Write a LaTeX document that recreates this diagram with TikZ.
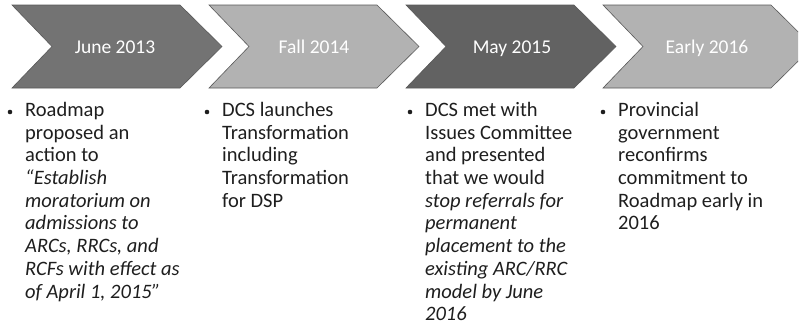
\documentclass[tikz,border=0pt]{standalone}
\usepackage{fontspec}
\setmainfont{Carlito}
\usepackage{tikz}
\usetikzlibrary{
    positioning,
    calc
}
\definecolor{chevDark}{RGB}{115, 115, 115}
\definecolor{chevLight}{RGB}{178, 178, 178}
\definecolor{bodyText}{RGB}{30, 30, 30}

\tikzset{
    chevron/.style={draw=black!65, line width=0.6pt},
    datelabel/.style={anchor=base, text=white, font=\fontsize{19.5}{22}\selectfont, inner sep=0pt},
    itemtext/.style={anchor=north west, align=left, inner sep=0pt, text=bodyText,
        font=\fontsize{20.5}{22.7}\selectfont},
    dot/.style={circle, fill=bodyText, inner sep=0pt, minimum size=4.6pt}
}

\begin{document}
\begin{tikzpicture}[x=1pt, y=-1pt]
        \useasboundingbox (0,0) rectangle (800,327);

        % Pfeile (Chevrons), rechts am Rand abgeschnitten
        \begin{scope}
            \clip (0,0) rectangle (798,327);
            \foreach \x/\col in {12/chevDark, 209/chevLight, 406/chevDark!85!black, 603/chevLight} {
                \fill[\col] (\x,5) -- ++(168,0) -- ++(42,41.5) -- ++(-42,41.5)
                    -- ++(-168,0) -- ++(40,-41.5) -- cycle;
                \draw[chevron] (\x,5) -- ++(168,0) -- ++(42,41.5) -- ++(-42,41.5)
                    -- ++(-168,0) -- ++(40,-41.5) -- cycle;
            }
        \end{scope}

        % Daten in den Pfeilen
        \node[datelabel] (d1) at (115,53) {June 2013};
        \node[datelabel] (d2) at (314,53) {Fall 2014};
        \node[datelabel] (d3) at (512,53) {May 2015};
        \node[datelabel] (d4) at (707,53) {Early 2016};

        % Texte unter den Pfeilen
        \node[itemtext] (t1) at (25,102) {Roadmap\\proposed an\\action to\\
            \textit{“Establish}\\\textit{moratorium on}\\\textit{admissions to}\\
            \textit{ARCs, RRCs, and}\\\textit{RCFs with effect as}\\\textit{of April 1, 2015”}};
        \node[itemtext] (t2) at (222,102) {DCS launches\\Transformation\\including\\
            Transformation\\for DSP};
        \node[itemtext] (t3) at (425,102) {DCS met with\\Issues Committee\\and presented\\
            that we would\\\textit{stop referrals for}\\\textit{permanent}\\
            \textit{placement to the}\\\textit{existing ARC/RRC}\\\textit{model by June}\\\textit{2016}};
        \node[itemtext] (t4) at (618,102) {Provincial\\government\\reconfirms\\
            commitment to\\Roadmap early in\\2016};

        % Aufzaehlungspunkte
        \foreach \n in {1,...,4} {
            \node[dot] (b\n) at ($(t\n.north west)+(-15,10)$) {};
        }
    \end{tikzpicture}
\end{document}
